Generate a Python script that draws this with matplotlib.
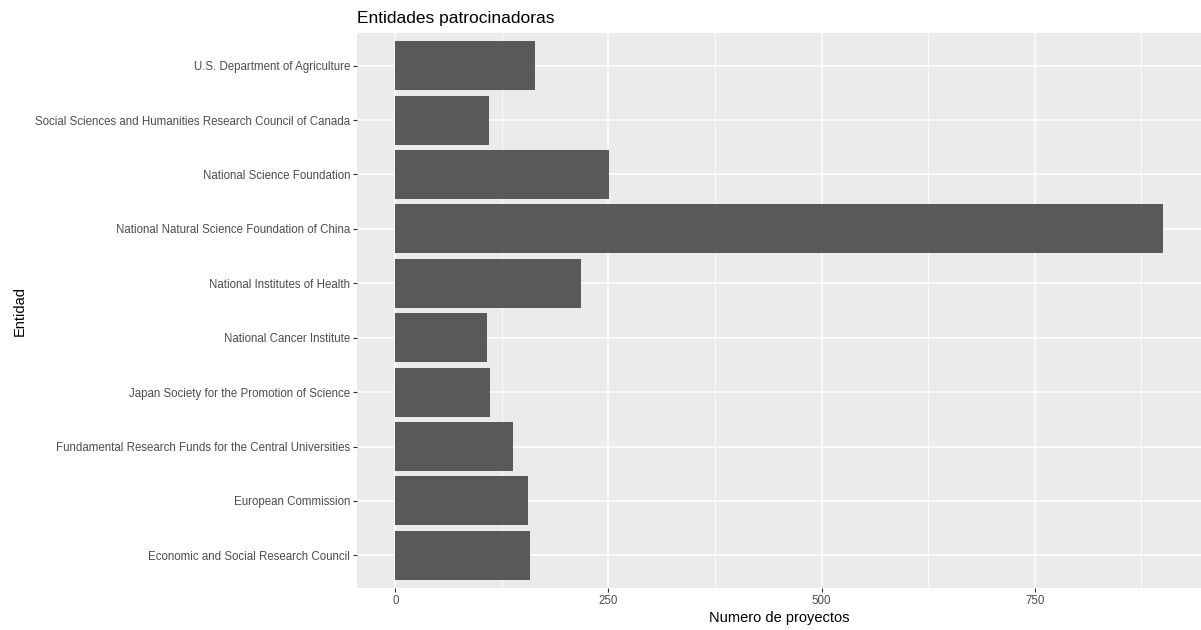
import matplotlib
matplotlib.use("Agg")
import matplotlib.pyplot as plt
from matplotlib.ticker import MultipleLocator

# categories bottom -> top (ggplot discrete axis order)
entidades = [
    "Economic and Social Research Council",
    "European Commission",
    "Fundamental Research Funds for the Central Universities",
    "Japan Society for the Promotion of Science",
    "National Cancer Institute",
    "National Institutes of Health",
    "National Natural Science Foundation of China",
    "National Science Foundation",
    "Social Sciences and Humanities Research Council of Canada",
    "U.S. Department of Agriculture",
]
proyectos = [158, 156, 138, 111, 108, 218, 900, 251, 110, 164]
xticks = [0, 250, 500, 750]

plt.rcParams["font.family"] = ["Liberation Sans", "DejaVu Sans"]

fig = plt.figure(figsize=(12.01, 6.30), dpi=100)
ax = fig.add_axes([357 / 1201, 1 - 588 / 630, 1 - 357 / 1201, (588 - 33) / 630])

ax.set_facecolor("#EBEBEB")
for s in ax.spines.values():
    s.set_visible(False)

y = list(range(len(entidades)))
ax.barh(y, proyectos, height=0.9, color="#595959", zorder=3)

ax.set_xlim(-45, 945)
ax.set_ylim(-0.6, len(entidades) - 0.4)
ax.set_xticks(xticks)
ax.set_xticklabels([str(t) for t in xticks])
ax.xaxis.set_minor_locator(MultipleLocator(250))
ax.set_xticks([125, 375, 625, 875], minor=True)
ax.set_yticks(y)
ax.set_yticklabels(entidades)

ax.grid(which="major", color="white", lw=1.1, zorder=1)
ax.grid(which="minor", axis="x", color="white", lw=0.55, zorder=1)
ax.tick_params(which="major", length=3, width=0.8, color="#333333",
               labelcolor="#4D4D4D", labelsize=8.3, pad=2)
ax.tick_params(which="minor", length=0)

ax.set_xlabel("Numero de proyectos", fontsize=10.5, color="black", labelpad=3)
ax.set_ylabel("Entidad", fontsize=10.5, color="black", labelpad=6)
fig.text(357 / 1201, 1 - 18 / 630, "Entidades patrocinadoras", fontsize=12.5,
         color="black", ha="left", va="center")

fig.savefig("out.png", dpi=100)
